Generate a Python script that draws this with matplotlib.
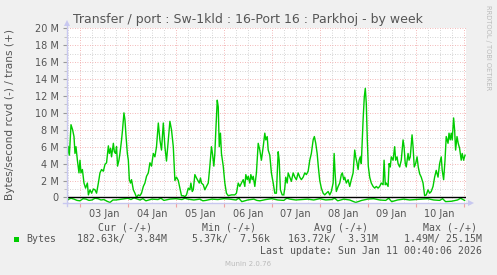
import matplotlib
matplotlib.use("Agg")
import matplotlib.pyplot as plt
from matplotlib.lines import Line2D

# hours since 03 Jan 00:00, trans (+) in MB/s
trans_hours = [-6.3, -5.8, -5.3, -4.5, -3.7, -3.0, -2.5, -2.0, -1.3, -0.5, 0.0, 0.5, 1.2, 2.0, 2.8,
               3.7, 4.2, 5.0, 5.8, 6.7, 7.5, 8.3, 9.2, 10.0, 10.8, 11.7, 12.5, 13.3, 14.2, 14.7,
               15.3, 15.8, 16.7, 17.2, 17.8, 18.3, 18.8, 19.5, 20.0, 20.8, 21.3, 22.0, 22.5, 23.0,
               23.7, 24.2, 24.7, 25.3, 25.8, 26.7, 27.5, 28.3, 29.2, 30.0, 30.8, 31.7, 32.5, 33.3,
               34.2, 35.0, 35.8, 36.7, 37.5, 38.3, 39.2, 40.0, 40.8, 41.7, 42.5, 43.3, 44.2, 45.0,
               45.8, 46.7, 47.5, 48.3, 49.2, 50.0, 50.8, 51.7, 52.5, 53.3, 54.2, 55.0, 55.5, 56.2,
               56.7, 57.5, 58.3, 59.2, 59.7, 60.3, 60.8, 61.7, 62.5, 63.3, 64.2, 65.0, 65.8, 66.3,
               67.0, 67.5, 68.0, 68.7, 69.2, 69.7, 70.3, 70.8, 71.7, 72.5, 73.3, 74.2, 75.8, 77.5,
               78.3, 79.2, 80.0, 80.8, 81.7, 82.5, 83.0, 83.7, 84.2, 85.0, 85.5, 86.2, 86.7, 87.5,
               88.3, 89.2, 90.0, 90.8, 91.7, 92.5, 93.0, 93.7, 94.2, 95.0, 95.8, 96.7, 97.5, 98.3,
               99.2, 99.7, 100.3, 101.2, 102.0, 102.5, 103.0, 103.7, 104.2, 105.0, 105.8, 106.7,
               107.5, 108.3, 109.2, 110.0, 110.8, 111.7, 112.5, 113.3, 114.2, 115.0, 115.8, 116.7,
               117.3, 118.0, 118.7, 119.3, 120.0, 120.8, 121.7, 122.5, 123.3, 124.2, 125.0, 125.8,
               126.7, 127.2, 127.7, 128.3, 129.2, 130.0, 130.8, 131.3, 132.0, 132.5, 133.3, 134.2,
               135.0, 135.8, 136.7, 137.5, 138.0, 138.7, 139.2, 139.7, 140.3, 140.8, 141.7, 142.3,
               142.8, 143.3, 143.8, 144.3, 145.0, 145.8, 146.7, 147.5, 148.3, 149.2, 150.0, 150.8,
               151.7, 152.2, 152.8, 153.3, 154.2, 154.7, 155.3, 155.8, 156.7, 157.5, 158.0, 158.7,
               159.2, 160.0, 160.8, 161.7, 162.2, 162.8, 163.3, 164.2, 164.7, 165.3, 166.2, 166.7,
               167.3, 168.0, 168.7, 169.3, 170.0, 170.8, 171.7, 172.5, 173.3, 174.2, 175.0, 175.8,
               176.7, 177.5, 178.3, 179.2, 180.0, 180.8, 181.3, 182.0, 182.7, 183.3, 184.2, 184.7,
               185.3, 185.8, 186.3, 187.0, 187.5, 188.0, 188.7, 189.3, 190.0, 190.8, 191.3, 192.0,
               192.7]
trans = [5.0, 6.0, 5.0, 8.6, 8.0, 7.2, 5.2, 6.0, 4.4, 2.9, 4.4, 2.9, 3.3, 1.7, 1.1,
         1.7, 0.3, 0.9, 0.5, 1.0, 0.9, 0.5, 1.7, 2.9, 3.3, 3.1, 3.9, 4.1, 6.1, 5.2,
         5.8, 4.8, 6.4, 5.4, 5.2, 6.0, 3.7, 4.4, 5.2, 6.8, 8.0, 10.0, 9.2, 7.4,
         5.2, 4.4, 2.1, 1.7, 2.1, 0.9, 0.5, 0.0, 0.3, 0.2, 0.5, 1.3, 1.7, 2.5,
         2.9, 4.1, 3.7, 5.2, 4.8, 6.0, 8.8, 6.8, 5.6, 8.8, 6.0, 4.3, 6.8, 9.0,
         8.0, 6.0, 2.0, 2.4, 2.0, 1.1, 0.2, 0.2, 0.1, 0.3, 1.1, 0.9, 1.7, 0.7,
         0.9, 2.7, 2.3, 1.9, 1.7, 2.3, 1.7, 1.5, 0.9, 1.3, 1.7, 3.7, 6.0, 5.2,
         3.7, 5.2, 8.0, 11.5, 10.7, 6.0, 7.6, 5.2, 3.7, 1.7, 0.5, 0.2, 0.3, 0.3,
         0.5, 1.7, 1.3, 1.7, 2.1, 1.3, 2.7, 2.1, 2.5, 1.7, 2.7, 2.1, 2.5, 1.3,
         2.9, 6.4, 5.6, 4.4, 6.0, 7.6, 6.8, 7.2, 5.6, 5.0, 2.9, 1.7, 0.5, 0.5,
         5.4, 4.4, 0.9, 0.3, 0.3, 1.1, 2.4, 1.7, 2.9, 2.4, 1.9, 2.9,
         2.4, 2.1, 2.9, 2.4, 2.1, 2.4, 2.9, 2.7, 3.1, 4.4, 5.2, 6.8,
         7.2, 6.4, 5.2, 3.6, 2.0, 1.1, 0.5, 0.3, 0.5, 0.7, 0.3, 0.7,
         1.7, 5.2, 2.8, 0.7, 1.3, 1.7, 2.7, 2.9, 2.1, 2.4, 1.7, 2.1,
         1.3, 2.1, 2.9, 5.6, 4.8, 4.0, 3.3, 4.4, 4.8, 4.0, 9.2, 11.9,
         12.9, 11.1, 6.8, 3.7, 2.4, 1.7, 1.3, 1.1, 1.3, 1.1, 1.3, 1.7,
         1.5, 4.4, 1.5, 1.7, 1.3, 4.0, 3.6, 4.8, 4.4, 6.0, 4.4, 4.8,
         4.0, 3.6, 4.4, 6.8, 6.0, 4.0, 3.6, 5.2, 4.4, 4.8, 7.4, 6.0,
         3.6, 4.0, 4.8, 3.6, 2.8, 2.4, 1.7, 0.2, 0.3, 0.9, 0.5, 0.7,
         1.3, 2.4, 3.2, 2.4, 4.0, 4.8, 3.2, 2.1, 4.4, 7.2, 6.4, 7.6,
         6.8, 7.6, 6.8, 9.4, 8.0, 5.6, 7.2, 6.4, 5.8, 4.4, 5.2, 4.4,
         5.0]

# rcvd (-) in MB/s, drawn below zero
rcvd_hours = [-6.5, -4.5, -3, -1.5, 0, 1.5, 3, 4.5, 6, 7.5, 9, 10.5, 12, 13.5, 15, 16.5, 18,
              21, 24, 25.5, 27, 30, 31.5, 33, 36, 39, 40.5, 42, 45, 48, 51, 52.5, 54, 57, 60,
              61.5, 63, 66, 69, 72, 75, 78, 79.5, 81, 84, 87, 88.5, 90, 93, 96, 99, 102,
              103.5, 105, 108, 111, 114, 117, 120, 123, 126, 127.5, 129, 132, 135, 136.5, 138,
              141, 144, 147, 150, 153, 154.5, 156, 159, 162, 165, 168, 171, 174, 177, 180, 181.5,
              183, 186, 189, 190.5, 192.5]
rcvd = [0.3, 0.1, 0.2, 0.35, 0.4, 0.15, 0.2, 0.35, 0.3, 0.1, 0.15, 0.3, 0.25, 0.45, 0.6, 0.3,
        0.3, 0.2, 0.1, 0.25, 0.05, 0.3, 0.15, 0.4, 0.2, 0.25, 0.1, 0.35, 0.2, 0.15, 0.25, 0.1,
        0.2, 0.3, 0.2, 0.4, 0.35, 0.2, 0.25, 0.15, 0.2, 0.3, 0.1, 0.5, 0.3, 0.2, 0.35, 0.4,
        0.25, 0.15, 0.3, 0.35, 0.1, 0.2, 0.3, 0.25, 0.2, 0.3, 0.15, 0.3, 0.25, 0.1, 0.4, 0.2,
        0.3, 0.45, 0.6, 0.35, 0.2, 0.15, 0.3, 0.35, 0.1, 0.5, 0.3, 0.2, 0.3, 0.25, 0.2, 0.15,
        0.3, 0.35, 0.15, 0.5, 0.45, 0.3, 0.1, 0.35]

day_labels = ["03 Jan", "04 Jan", "05 Jan", "06 Jan", "07 Jan", "08 Jan", "09 Jan", "10 Jan"]
y_labels = ["0", "2 M", "4 M", "6 M", "8 M", "10 M", "12 M", "14 M", "16 M", "18 M", "20 M"]

W, H = 497, 275
fig = plt.figure(figsize=(W / 100, H / 100), dpi=100, facecolor="#F0F0F0")


def fx(px):
    return px / W


def fy(py):
    return 1 - py / H


ax = fig.add_axes([fx(67), fy(202.5), fx(466) - fx(67), fy(28.3) - fy(202.5)])
ax.set_facecolor("white")
ax.set_xlim(-6.5, 193.2)
ax.set_ylim(-0.6, 20)

# grid
for h in range(-6, 194, 6):
    if h % 24:
        ax.axvline(h, color="#C8C8C8", lw=0.6, ls=(0, (1, 2)), zorder=1)
for h in range(0, 194, 24):
    ax.axvline(h, color="#F0A0A0", lw=0.6, ls=(0, (1, 2)), zorder=1)
for v in range(1, 21):
    c = "#F0A0A0" if v % 2 == 0 else "#C8C8C8"
    ax.axhline(v, color=c, lw=0.6, ls=(0, (1, 2)), zorder=1)

ax.plot(trans_hours, trans, color="#00CC00", lw=1.0, zorder=3)
ax.plot(rcvd_hours, [-v for v in rcvd], color="#00CC00", lw=1.0, zorder=3)
ax.axhline(0, color="black", lw=1.0, zorder=4)

# ticks
ax.set_yticks(range(0, 21, 2))
ax.set_yticklabels(y_labels)
ax.set_yticks(range(1, 21, 2), minor=True)
ax.tick_params(axis="y", which="major", length=3, color="#999999", labelsize=7,
               labelcolor="#555555", pad=3)
ax.tick_params(axis="y", which="minor", length=2, color="#BBBBBB")
ax.set_xticks(range(0, 194, 24))
ax.set_xticklabels([""] * 9)
ax.tick_params(axis="x", which="major", length=3, color="#F0A0A0")
ax.set_xticks([12 + 24 * i for i in range(8)], minor=True)
ax.set_xticklabels(day_labels, minor=True)
ax.tick_params(axis="x", which="minor", length=0, labelsize=7, labelcolor="#555555", pad=5)

for s in ["top", "right", "left", "bottom"]:
    ax.spines[s].set_visible(False)

# axes with arrows
axis_col = "#C8C8F0"
fig.add_artist(Line2D([fx(67), fx(67)], [fy(206), fy(24)], color=axis_col, lw=1.0))
fig.add_artist(Line2D([fx(63), fx(470)], [fy(202.5), fy(202.5)], color=axis_col, lw=1.0))
fig.add_artist(Line2D([fx(67)], [fy(23)], marker="^", color=axis_col, ms=4, mew=0))
fig.add_artist(Line2D([fx(471)], [fy(202.5)], marker=">", color=axis_col, ms=4, mew=0))

# texts
fig.text(fx(248), fy(19), "Transfer / port : Sw-1kld : 16-Port 16 : Parkhoj - by week",
         ha="center", va="center", fontsize=9, color="#555555")
fig.text(fx(10), fy(115), "Bytes/second rcvd (-) / trans (+)", rotation=90,
         ha="center", va="center", fontsize=7.6, color="#555555")
fig.text(fx(488), fy(5), "RRDTOOL / TOBI OETIKER", rotation=270, ha="center", va="top",
         fontsize=4.8, color="#BBBBBB")

mono = "DejaVu Sans Mono"
ms = 7.1
tc = "#555555"
fig.text(fx(125), fy(227.7), "Cur (-/+)", ha="center", va="center", family=mono, fontsize=ms, color=tc)
fig.text(fx(228.5), fy(227.7), "Min (-/+)", ha="center", va="center", family=mono, fontsize=ms, color=tc)
fig.text(fx(341.5), fy(227.7), "Avg (-/+)", ha="center", va="center", family=mono, fontsize=ms, color=tc)
fig.text(fx(449.7), fy(227.7), "Max (-/+)", ha="center", va="center", family=mono, fontsize=ms, color=tc)

fig.add_artist(plt.Rectangle((fx(14), fy(242)), fx(5.3), fy(236.7) - fy(242),
                             facecolor="#00CC00", edgecolor="none"))
fig.text(fx(26.7), fy(239.3), "Bytes", ha="left", va="center", family=mono, fontsize=ms, color=tc)
fig.text(fx(166.7), fy(239.3), "182.63k/  3.84M", ha="right", va="center", family=mono, fontsize=ms, color=tc)
fig.text(fx(270), fy(239.3), "5.37k/  7.56k", ha="right", va="center", family=mono, fontsize=ms, color=tc)
fig.text(fx(377.7), fy(239.3), "163.72k/  3.31M", ha="right", va="center", family=mono, fontsize=ms, color=tc)
fig.text(fx(482.3), fy(239.3), "1.49M/ 25.15M", ha="right", va="center", family=mono, fontsize=ms, color=tc)
fig.text(fx(482.3), fy(251), "Last update: Sun Jan 11 00:40:06 2026", ha="right", va="center",
         family=mono, fontsize=ms, color=tc)
fig.text(fx(248), fy(264.3), "Munin 2.0.76", ha="center", va="center", fontsize=5,
         color="#BBBBBB")

fig.savefig("out.png", dpi=100, facecolor=fig.get_facecolor())
